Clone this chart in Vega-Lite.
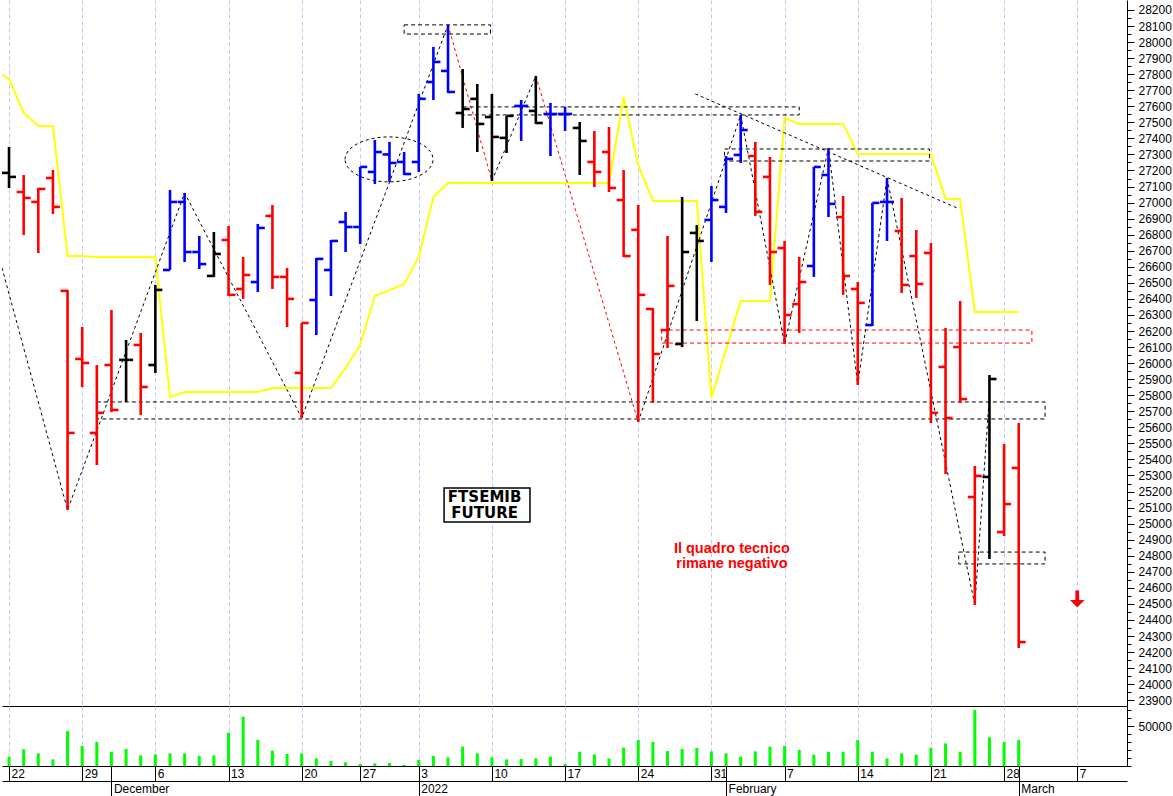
{
  "$schema": "https://vega.github.io/schema/vega-lite/v6.json",
  "padding": 0,
  "background": "white",
  "bounds": "flush",
  "spacing": 0,
  "config": {
    "font": "Liberation Sans",
    "view": {"stroke": null},
    "axis": {"labelFont": "Liberation Sans", "labelFontSize": 12, "labelColor": "#000000", "domainColor": "#000000", "tickColor": "#000000", "title": null}
  },
  "datasets": {
    "ohlc": [
      {"i":0,"o":27185,"h":27347,"l":27091,"c":27160,"v":11600,"t":"flat"},
      {"i":1,"o":27066,"h":27172,"l":26798,"c":27029,"v":21000,"t":"down"},
      {"i":2,"o":27004,"h":27091,"l":26686,"c":27085,"v":15800,"t":"down"},
      {"i":3,"o":27153,"h":27203,"l":26929,"c":26973,"v":8300,"t":"down"},
      {"i":4,"o":26450,"h":26456,"l":25085,"c":25565,"v":43700,"t":"down"},
      {"i":5,"o":26026,"h":26225,"l":25851,"c":26001,"v":25000,"t":"down"},
      {"i":6,"o":25565,"h":25988,"l":25365,"c":25690,"v":30000,"t":"down"},
      {"i":7,"o":25988,"h":26331,"l":25695,"c":25708,"v":17900,"t":"down"},
      {"i":8,"o":26020,"h":26144,"l":25758,"c":26020,"v":21300,"t":"flat"},
      {"i":9,"o":26113,"h":26188,"l":25677,"c":25851,"v":13300,"t":"down"},
      {"i":10,"o":25988,"h":26487,"l":25939,"c":26456,"v":14600,"t":"flat"},
      {"i":11,"o":26580,"h":27079,"l":26580,"c":27004,"v":15800,"t":"up"},
      {"i":12,"o":27004,"h":27060,"l":26630,"c":26692,"v":15800,"t":"up"},
      {"i":13,"o":26692,"h":26792,"l":26586,"c":26617,"v":12500,"t":"up"},
      {"i":14,"o":26543,"h":26817,"l":26537,"c":26680,"v":13300,"t":"flat"},
      {"i":15,"o":26767,"h":26854,"l":26418,"c":26425,"v":41700,"t":"down"},
      {"i":16,"o":26462,"h":26661,"l":26400,"c":26549,"v":61700,"t":"down"},
      {"i":17,"o":26505,"h":26867,"l":26443,"c":26842,"v":32500,"t":"up"},
      {"i":18,"o":26917,"h":26985,"l":26462,"c":26537,"v":19200,"t":"down"},
      {"i":19,"o":26537,"h":26593,"l":26225,"c":26400,"v":15000,"t":"down"},
      {"i":20,"o":25939,"h":26250,"l":25658,"c":26250,"v":15800,"t":"down"},
      {"i":21,"o":26393,"h":26655,"l":26175,"c":26649,"v":9600,"t":"up"},
      {"i":22,"o":26580,"h":26767,"l":26418,"c":26761,"v":6300,"t":"up"},
      {"i":23,"o":26879,"h":26942,"l":26692,"c":26848,"v":4600,"t":"up"},
      {"i":24,"o":26848,"h":27222,"l":26742,"c":27222,"v":2500,"t":"up"},
      {"i":25,"o":27191,"h":27390,"l":27116,"c":27315,"v":3300,"t":"up"},
      {"i":26,"o":27300,"h":27378,"l":27128,"c":27247,"v":3700,"t":"up"},
      {"i":27,"o":27253,"h":27315,"l":27172,"c":27178,"v":1250,"t":"up"},
      {"i":28,"o":27253,"h":27677,"l":27191,"c":27646,"v":7500,"t":"up"},
      {"i":29,"o":27751,"h":27970,"l":27639,"c":27876,"v":12500,"t":"up"},
      {"i":30,"o":27820,"h":28107,"l":27683,"c":27689,"v":10800,"t":"up"},
      {"i":31,"o":27558,"h":27832,"l":27465,"c":27583,"v":24200,"t":"flat"},
      {"i":32,"o":27646,"h":27739,"l":27315,"c":27490,"v":15800,"t":"flat"},
      {"i":33,"o":27533,"h":27677,"l":27135,"c":27409,"v":10800,"t":"flat"},
      {"i":34,"o":27403,"h":27540,"l":27309,"c":27540,"v":8300,"t":"flat"},
      {"i":35,"o":27602,"h":27639,"l":27384,"c":27602,"v":8700,"t":"up"},
      {"i":36,"o":27571,"h":27789,"l":27490,"c":27496,"v":9600,"t":"flat"},
      {"i":37,"o":27552,"h":27621,"l":27290,"c":27552,"v":11700,"t":"up"},
      {"i":38,"o":27552,"h":27596,"l":27446,"c":27552,"v":2500,"t":"up"},
      {"i":39,"o":27465,"h":27502,"l":27172,"c":27384,"v":17900,"t":"flat"},
      {"i":40,"o":27253,"h":27446,"l":27097,"c":27191,"v":14600,"t":"down"},
      {"i":41,"o":27315,"h":27471,"l":27066,"c":27091,"v":9600,"t":"down"},
      {"i":42,"o":27016,"h":27203,"l":26661,"c":26667,"v":22900,"t":"down"},
      {"i":43,"o":26830,"h":26985,"l":25633,"c":26425,"v":32500,"t":"down"},
      {"i":44,"o":26337,"h":26343,"l":25752,"c":26057,"v":30000,"t":"down"},
      {"i":45,"o":26206,"h":26792,"l":26094,"c":26481,"v":18750,"t":"down"},
      {"i":46,"o":26119,"h":27035,"l":26100,"c":26692,"v":21300,"t":"flat"},
      {"i":47,"o":26811,"h":26860,"l":26262,"c":26761,"v":22500,"t":"flat"},
      {"i":48,"o":26892,"h":27104,"l":26630,"c":27016,"v":18300,"t":"up"},
      {"i":49,"o":26973,"h":27290,"l":26935,"c":27272,"v":15800,"t":"up"},
      {"i":50,"o":27297,"h":27546,"l":27247,"c":27452,"v":11700,"t":"up"},
      {"i":51,"o":27290,"h":27378,"l":26917,"c":26942,"v":18300,"t":"down"},
      {"i":52,"o":27160,"h":27284,"l":26487,"c":26692,"v":24200,"t":"down"},
      {"i":53,"o":26717,"h":26761,"l":26119,"c":26300,"v":25000,"t":"down"},
      {"i":54,"o":26368,"h":26661,"l":26188,"c":26505,"v":20000,"t":"down"},
      {"i":55,"o":26605,"h":27222,"l":26537,"c":27222,"v":14200,"t":"up"},
      {"i":56,"o":27172,"h":27340,"l":26910,"c":26992,"v":17900,"t":"up"},
      {"i":57,"o":26910,"h":27041,"l":26425,"c":26543,"v":17900,"t":"down"},
      {"i":58,"o":26462,"h":26505,"l":25864,"c":26375,"v":32500,"t":"down"},
      {"i":59,"o":26237,"h":26998,"l":26231,"c":26998,"v":17900,"t":"up"},
      {"i":60,"o":27004,"h":27153,"l":26761,"c":27004,"v":9600,"t":"up"},
      {"i":61,"o":26823,"h":27029,"l":26437,"c":26487,"v":15800,"t":"down"},
      {"i":62,"o":26667,"h":26829,"l":26406,"c":26493,"v":14200,"t":"down"},
      {"i":63,"o":26686,"h":26748,"l":25627,"c":25690,"v":22900,"t":"down"},
      {"i":64,"o":25976,"h":26219,"l":25309,"c":25658,"v":28300,"t":"down"},
      {"i":65,"o":26100,"h":26387,"l":25752,"c":25776,"v":17900,"t":"down"},
      {"i":66,"o":25166,"h":25359,"l":24493,"c":25297,"v":70000,"t":"down"},
      {"i":67,"o":25291,"h":25926,"l":24780,"c":25901,"v":35800,"t":"flat"},
      {"i":68,"o":24948,"h":25496,"l":24923,"c":25122,"v":30000,"t":"down"},
      {"i":69,"o":25347,"h":25627,"l":24225,"c":24262,"v":32500,"t":"down"}
    ],
    "yellow": [
      {"i":-0.48,"p":27795},{"i":0,"p":27770},{"i":1,"p":27558},{"i":2,"p":27477},{"i":3,"p":27477},
      {"i":4,"p":26667},{"i":5,"p":26667},{"i":6,"p":26661},{"i":7,"p":26661},{"i":8,"p":26661},
      {"i":9,"p":26661},{"i":10,"p":26661},{"i":11,"p":25789},{"i":12,"p":25820},{"i":13,"p":25820},
      {"i":14,"p":25820},{"i":15,"p":25820},{"i":16,"p":25820},{"i":17,"p":25820},{"i":18,"p":25845},
      {"i":19,"p":25845},{"i":20,"p":25845},{"i":21,"p":25845},{"i":22,"p":25845},{"i":23,"p":25970},
      {"i":24,"p":26113},{"i":25,"p":26418},{"i":26,"p":26455},{"i":27,"p":26493},{"i":28,"p":26661},
      {"i":29,"p":27035},{"i":30,"p":27122},{"i":31,"p":27122},{"i":32,"p":27122},{"i":33,"p":27122},
      {"i":34,"p":27122},{"i":35,"p":27122},{"i":36,"p":27122},{"i":37,"p":27122},{"i":38,"p":27122},
      {"i":39,"p":27122},{"i":40,"p":27122},{"i":41,"p":27122},{"i":42,"p":27658},{"i":43,"p":27234},
      {"i":44,"p":27010},{"i":45,"p":27010},{"i":46,"p":27010},{"i":47,"p":27010},{"i":48,"p":25783},
      {"i":49,"p":26085},{"i":50,"p":26387},{"i":51,"p":26387},{"i":52,"p":26387},{"i":53,"p":27527},
      {"i":54,"p":27490},{"i":55,"p":27490},{"i":56,"p":27490},{"i":57,"p":27490},{"i":58,"p":27303},
      {"i":59,"p":27303},{"i":60,"p":27303},{"i":61,"p":27303},{"i":62,"p":27303},{"i":63,"p":27303},
      {"i":64,"p":27023},{"i":65,"p":27023},{"i":66,"p":26319},{"i":67,"p":26319},{"i":68,"p":26319},
      {"i":69,"p":26319}
    ],
    "zz": [
      {"s":1,"k":1,"i":-0.48,"p":26593,"kind":"black"},
      {"s":1,"k":2,"i":4,"p":25085,"kind":"black"},
      {"s":1,"k":3,"i":12,"p":27060,"kind":"black"},
      {"s":1,"k":4,"i":20,"p":25658,"kind":"black"},
      {"s":1,"k":5,"i":30,"p":28107,"kind":"black"},
      {"s":2,"k":1,"i":30,"p":28107,"kind":"red"},
      {"s":2,"k":2,"i":33,"p":27135,"kind":"red"},
      {"s":3,"k":1,"i":33,"p":27135,"kind":"black"},
      {"s":3,"k":2,"i":36,"p":27789,"kind":"black"},
      {"s":4,"k":1,"i":36,"p":27789,"kind":"red"},
      {"s":4,"k":2,"i":43,"p":25633,"kind":"red"},
      {"s":5,"k":1,"i":43,"p":25633,"kind":"black"},
      {"s":5,"k":2,"i":50,"p":27546,"kind":"black"},
      {"s":5,"k":3,"i":53,"p":26119,"kind":"black"},
      {"s":5,"k":4,"i":56,"p":27340,"kind":"black"},
      {"s":5,"k":5,"i":58,"p":25864,"kind":"black"},
      {"s":5,"k":6,"i":60,"p":27153,"kind":"black"},
      {"s":5,"k":7,"i":66,"p":24493,"kind":"black"},
      {"s":5,"k":8,"i":67,"p":25801,"kind":"black"},
      {"s":6,"k":1,"i":46.9,"p":27677,"kind":"black"},
      {"s":6,"k":2,"i":64.8,"p":26966,"kind":"black"}
    ],
    "boxes": [
      {"a":27,"b":32.9,"lo":28050,"hi":28107,"kind":"black"},
      {"a":31,"b":54,"lo":27546,"hi":27596,"kind":"black"},
      {"a":48.9,"b":62.9,"lo":27259,"hi":27334,"kind":"black"},
      {"a":6,"b":70.8,"lo":25652,"hi":25758,"kind":"black"},
      {"a":44.6,"b":69.9,"lo":26125,"hi":26206,"kind":"red"},
      {"a":64.9,"b":70.8,"lo":24749,"hi":24823,"kind":"black"}
    ],
    "months": [
      {"i":7,"m":"December"},{"i":28,"m":"2022"},{"i":49,"m":"February"},{"i":69,"m":"March"}
    ]
  },
  "vconcat": [
    {
      "width": 1125,
      "height": 706,
      "resolve": {"axis": {"x": "independent", "y": "independent"}},
      "layer": [
        {
          "data": {"name": "yellow"},
          "mark": {"type": "line", "color": "#ffff00", "strokeWidth": 2, "clip": true},
          "encoding": {
            "x": {"field": "i", "type": "quantitative", "scale": {"domain": [-0.48, 76.4], "nice": false, "zero": false},
              "axis": {"orient": "bottom", "title": null, "values": [0,5,10,15,20,24,28,33,38,43,48,53,58,63,68,73], "labels": false, "ticks": false, "domain": true, "grid": true, "gridDash": [4,3], "gridColor": "#c4c4f0", "gridWidth": 1}},
            "y": {"field": "p", "type": "quantitative", "scale": {"domain": [23864, 28262], "nice": false, "zero": false},
              "axis": {"orient": "right", "title": null, "grid": false, "format": "d",
                "values": [23900,23950,24000,24050,24100,24150,24200,24250,24300,24350,24400,24450,24500,24550,24600,24650,24700,24750,24800,24850,24900,24950,25000,25050,25100,25150,25200,25250,25300,25350,25400,25450,25500,25550,25600,25650,25700,25750,25800,25850,25900,25950,26000,26050,26100,26150,26200,26250,26300,26350,26400,26450,26500,26550,26600,26650,26700,26750,26800,26850,26900,26950,27000,27050,27100,27150,27200,27250,27300,27350,27400,27450,27500,27550,27600,27650,27700,27750,27800,27850,27900,27950,28000,28050,28100,28150,28200],
                "labelExpr": "datum.value % 100 === 0 ? '' + datum.value : ''",
                "tickSize": {"condition": {"test": "datum.value % 100 === 0", "value": 7}, "value": 4},
                "labelPadding": 4, "labelOverlap": false, "labelFlush": false, "labelBound": false}}
          }
        },
        {
          "data": {"name": "boxes"},
          "mark": {"type": "rect", "filled": false, "strokeWidth": 1, "strokeDash": [4, 3]},
          "encoding": {
            "x": {"field": "a", "type": "quantitative", "scale": {"domain": [-0.48, 76.4], "nice": false, "zero": false}, "axis": null},
            "x2": {"field": "b"},
            "y": {"field": "lo", "type": "quantitative", "scale": {"domain": [23864, 28262], "nice": false, "zero": false}, "axis": null},
            "y2": {"field": "hi"},
            "color": {"field": "kind", "type": "nominal", "scale": {"domain": ["down","up","flat","black","red"], "range": ["#ff0000","#0000ff","#000000","#000000","#ff0000"]}, "legend": null}
          }
        },
        {
          "data": {"name": "zz"},
          "mark": {"type": "line", "strokeWidth": 1, "strokeDash": [3, 3], "clip": true},
          "encoding": {
            "x": {"field": "i", "type": "quantitative", "scale": {"domain": [-0.48, 76.4], "nice": false, "zero": false}, "axis": null},
            "y": {"field": "p", "type": "quantitative", "scale": {"domain": [23864, 28262], "nice": false, "zero": false}, "axis": null},
            "detail": {"field": "s", "type": "nominal"},
            "order": {"field": "k", "type": "quantitative"},
            "color": {"field": "kind", "type": "nominal", "scale": {"domain": ["down","up","flat","black","red"], "range": ["#ff0000","#0000ff","#000000","#000000","#ff0000"]}, "legend": null}
          }
        },
        {
          "data": {"name": "ohlc"},
          "mark": {"type": "rule", "strokeWidth": 2.6},
          "encoding": {
            "x": {"field": "i", "type": "quantitative", "scale": {"domain": [-0.48, 76.4], "nice": false, "zero": false}, "axis": null},
            "y": {"field": "l", "type": "quantitative", "scale": {"domain": [23864, 28262], "nice": false, "zero": false}, "axis": null},
            "y2": {"field": "h"},
            "color": {"field": "t", "type": "nominal", "scale": {"domain": ["down","up","flat","black","red"], "range": ["#ff0000","#0000ff","#000000","#000000","#ff0000"]}, "legend": null}
          }
        },
        {
          "data": {"name": "ohlc"},
          "mark": {"type": "rule", "strokeWidth": 2.6, "xOffset": -7, "x2Offset": 0},
          "encoding": {
            "x": {"field": "i", "type": "quantitative", "scale": {"domain": [-0.48, 76.4], "nice": false, "zero": false}, "axis": null},
            "x2": {"field": "i"},
            "y": {"field": "o", "type": "quantitative", "scale": {"domain": [23864, 28262], "nice": false, "zero": false}, "axis": null},
            "color": {"field": "t", "type": "nominal", "scale": {"domain": ["down","up","flat","black","red"], "range": ["#ff0000","#0000ff","#000000","#000000","#ff0000"]}, "legend": null}
          }
        },
        {
          "data": {"name": "ohlc"},
          "mark": {"type": "rule", "strokeWidth": 2.6, "xOffset": 0, "x2Offset": 7},
          "encoding": {
            "x": {"field": "i", "type": "quantitative", "scale": {"domain": [-0.48, 76.4], "nice": false, "zero": false}, "axis": null},
            "x2": {"field": "i"},
            "y": {"field": "c", "type": "quantitative", "scale": {"domain": [23864, 28262], "nice": false, "zero": false}, "axis": null},
            "color": {"field": "t", "type": "nominal", "scale": {"domain": ["down","up","flat","black","red"], "range": ["#ff0000","#0000ff","#000000","#000000","#ff0000"]}, "legend": null}
          }
        },
        {
          "data": {"values": [{"i": 25.97, "p": 27269}]},
          "mark": {"type": "point", "shape": "M-1,0A1,0.511,0,1,1,1,0A1,0.511,0,1,1,-1,0Z", "size": 7744, "filled": false, "stroke": "#000000", "strokeWidth": 1, "strokeDash": [3, 3], "opacity": 1},
          "encoding": {
            "x": {"field": "i", "type": "quantitative", "scale": {"domain": [-0.48, 76.4], "nice": false, "zero": false}, "axis": null},
            "y": {"field": "p", "type": "quantitative", "scale": {"domain": [23864, 28262], "nice": false, "zero": false}, "axis": null}
          }
        },
        {
          "data": {"values": [{"i": 73, "p": 24530}]},
          "mark": {"type": "point", "shape": "M-0.22,-1L0.22,-1L0.22,0.1L0.85,0.1L0,1L-0.85,0.1L-0.22,0.1Z", "size": 289, "filled": true, "color": "#ff0000", "opacity": 1, "strokeWidth": 0},
          "encoding": {
            "x": {"field": "i", "type": "quantitative", "scale": {"domain": [-0.48, 76.4], "nice": false, "zero": false}, "axis": null},
            "y": {"field": "p", "type": "quantitative", "scale": {"domain": [23864, 28262], "nice": false, "zero": false}, "axis": null}
          }
        },
        {
          "data": {"values": [{"a": 29.73, "b": 35.6, "lo": 25010, "hi": 25222}]},
          "mark": {"type": "rect", "fill": "#ffffff", "stroke": "#000000", "strokeWidth": 1.5},
          "encoding": {
            "x": {"field": "a", "type": "quantitative", "scale": {"domain": [-0.48, 76.4], "nice": false, "zero": false}, "axis": null},
            "x2": {"field": "b"},
            "y": {"field": "lo", "type": "quantitative", "scale": {"domain": [23864, 28262], "nice": false, "zero": false}, "axis": null},
            "y2": {"field": "hi"}
          }
        },
        {
          "data": {"values": [{"i": 32.5, "p": 25166, "label": "FTSEMIB\nFUTURE"}]},
          "mark": {"type": "text", "font": "DejaVu Sans", "fontWeight": "bold", "fontSize": 15, "lineBreak": "\n", "lineHeight": 16, "align": "center", "baseline": "middle", "color": "#000000"},
          "encoding": {
            "x": {"field": "i", "type": "quantitative", "scale": {"domain": [-0.48, 76.4], "nice": false, "zero": false}, "axis": null},
            "y": {"field": "p", "type": "quantitative", "scale": {"domain": [23864, 28262], "nice": false, "zero": false}, "axis": null},
            "text": {"field": "label"}
          }
        },
        {
          "data": {"values": [{"i": 49.4, "p": 24842, "label": "Il quadro tecnico\n rimane negativo"}]},
          "mark": {"type": "text", "font": "Liberation Sans", "fontWeight": "bold", "fontSize": 14.5, "lineBreak": "\n", "lineHeight": 15, "align": "center", "baseline": "middle", "color": "#ff0000"},
          "encoding": {
            "x": {"field": "i", "type": "quantitative", "scale": {"domain": [-0.48, 76.4], "nice": false, "zero": false}, "axis": null},
            "y": {"field": "p", "type": "quantitative", "scale": {"domain": [23864, 28262], "nice": false, "zero": false}, "axis": null},
            "text": {"field": "label"}
          }
        }
      ]
    },
    {
      "width": 1125,
      "height": 60,
      "resolve": {"axis": {"x": "independent"}},
      "layer": [
        {
          "data": {"name": "ohlc"},
          "mark": {"type": "rule", "color": "#00ff00", "strokeWidth": 3},
          "encoding": {
            "x": {"field": "i", "type": "quantitative", "scale": {"domain": [-0.48, 76.4], "nice": false, "zero": false},
              "axis": {"orient": "bottom", "values": [0,5,7,10,15,20,24,28,33,38,43,48,49,53,58,63,68,69,73],
                "labelExpr": "indexof([0,5,10,15,20,24,28,33,38,43,48,53,58,63,68,73], datum.value) >= 0 ? ['22','29','6','13','20','27','3','10','17','24','31','7','14','21','28','7'][indexof([0,5,10,15,20,24,28,33,38,43,48,53,58,63,68,73], datum.value)] : ''",
                "tickSize": 15, "labelAlign": "left", "labelBaseline": "top", "labelPadding": -13, "labelOffset": 2,
                "labelOverlap": false, "labelFlush": false, "labelBound": false,
                "grid": true, "gridDash": [4, 3], "gridColor": "#c4c4f0",
                "gridOpacity": {"condition": {"test": "datum.value === 7 || datum.value === 49 || datum.value === 69", "value": 0}, "value": 1}}},
            "y": {"field": "v", "type": "quantitative", "scale": {"domain": [0, 75000], "nice": false, "zero": true},
              "axis": {"orient": "right", "grid": false, "values": [0,10000,20000,30000,40000,50000,60000,70000],
                "labelExpr": "datum.value === 50000 ? '50000' : ''",
                "tickSize": {"condition": {"test": "datum.value === 50000", "value": 7}, "value": 4},
                "labelPadding": 4, "labelOverlap": false, "labelFlush": false, "labelBound": false}},
            "y2": {"datum": 0}
          }
        },
        {
          "data": {"name": "months"},
          "mark": {"type": "rule", "opacity": 0},
          "encoding": {
            "x": {"field": "i", "type": "quantitative", "scale": {"domain": [-0.48, 76.4], "nice": false, "zero": false},
              "axis": {"orient": "bottom", "offset": 15, "values": [7, 28, 49, 69],
                "labelExpr": "['December','2022','February','March'][indexof([7,28,49,69], datum.value)]",
                "tickSize": 15, "labelAlign": "left", "labelBaseline": "top", "labelPadding": -13, "labelOffset": 2,
                "labelOverlap": false, "labelFlush": false, "labelBound": false, "grid": false}}
          }
        }
      ]
    }
  ]
}
